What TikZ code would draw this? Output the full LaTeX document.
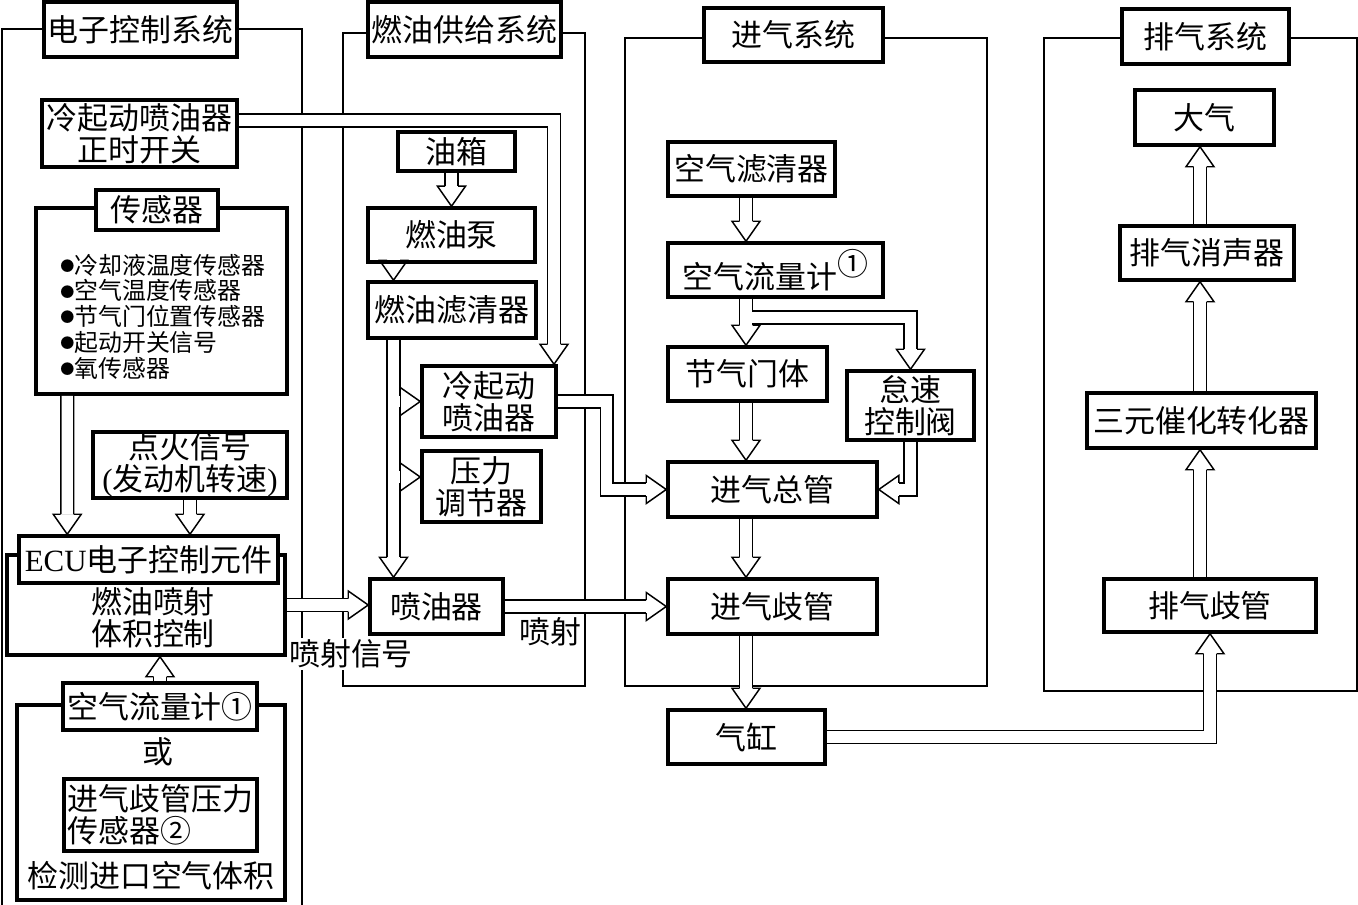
\documentclass[tikz,border=0pt]{standalone}
\usepackage{fontspec}
\setmainfont{Noto Sans CJK SC}
\newfontfamily\latinrm{Liberation Serif}
\usepackage{tikz}
\usetikzlibrary{calc}
\newcommand\boxfont{\fontsize{22}{23}\selectfont}
\newcommand\sensorfont{\fontsize{17}{18.3}\selectfont}
\newcommand\senbullet{\raisebox{0.12em}{\fontsize{10}{10}\selectfont ●}}
\tikzset{
  sysframe/.style={draw,line width=1pt},
  titlebox/.style={draw,line width=2.5pt,fill=white,inner sep=0pt,minimum height=13.75mm,font=\boxfont},
  unitbox/.style={draw,line width=2.5pt,fill=white,inner sep=0pt,align=center,minimum height=13.5mm,font=\boxfont},
  note/.style={inner sep=1pt,fill=white,align=center,font=\boxfont},
  pipe/.style={draw,line width=1.05pt,double=white,double distance=2.85mm,line join=miter},
  pipeline/.style={line width=1.05pt,line join=miter},
  hhead/.pic={
    \draw[pipeline] (-20,6.5) -- (-20,14) -- (0,0) -- (-20,-14) -- (-20,-6.5);
  }
}
\begin{document}
\begin{tikzpicture}[x=0.25mm,y=-0.25mm]
  \useasboundingbox (0,0) rectangle (1358,905);
  \draw[sysframe] (2,905) -- (2,29) -- (302,29) -- (302,905);
  \draw[sysframe] (343,33) rectangle (585,686);
  \draw[sysframe] (625,38) rectangle (987,686);
  \draw[sysframe] (1044,38) rectangle (1357,691);
  \node[titlebox,minimum width=48.25mm] (ecsTitle) at (140.5,29.5) {电子控制系统};
  \node[titlebox,minimum width=48.25mm] (fuelTitle) at (464.5,29.5) {燃油供给系统};
  \node[titlebox,minimum width=44.75mm,minimum height=13.5mm] (intakeTitle) at (793.5,35) {进气系统};
  \node[titlebox,minimum width=41.75mm] (exhaustTitle) at (1205.5,36.5) {排气系统};

  % electronic control
  \node[unitbox,minimum width=48.75mm,minimum height=16.75mm] (csSwitch) at (139.5,133.5) {冷起动喷油器\\正时开关};
  \node[unitbox,minimum width=62.75mm,minimum height=46.5mm] (sensors) at (161.5,301) {};
  \node[titlebox,minimum width=30.5mm,minimum height=10mm] (sensorTitle) at (157,210) {传感器};
  \node[align=left,anchor=west,inner sep=0pt,font=\sensorfont] (sensorList) at (60,316.5)
    {\senbullet 冷却液温度传感器\\\senbullet 空气温度传感器\\\senbullet 节气门位置传感器\\\senbullet 起动开关信号\\\senbullet 氧传感器};
  \node[unitbox,minimum width=48.5mm,minimum height=16.5mm] (ignition) at (190,465) {点火信号\\{\latinrm(}发动机转速{\latinrm)}};
  \node[unitbox,minimum width=69.5mm,minimum height=25mm] (ecu) at (146,605) {};
  \node[titlebox,minimum width=64.75mm,minimum height=11.75mm] (ecuTitle) at (148.5,559.5) {{\latinrm ECU}电子控制元件};
  \node[note] (ecuText) at (153,618) {燃油喷射\\体积控制};
  \node[unitbox,minimum width=67mm,minimum height=48.75mm] (detect) at (151,802.5) {};
  \node[titlebox,minimum width=48.5mm,minimum height=11.75mm] (afmTitle) at (160,706.5) {空气流量计①};
  \node[note] (orText) at (158,752) {或};
  \node[unitbox,align=left,minimum width=48.25mm,minimum height=18mm] (mapSensor) at (160.5,815) {进气歧管压力\\传感器②};
  \node[note] (detectText) at (151,876) {检测进口空气体积};

  % fuel supply
  \node[unitbox,minimum width=29.25mm,minimum height=9.75mm] (tank) at (456.5,151.5) {油箱};
  \node[unitbox,minimum width=41.75mm] (pump) at (451.5,235) {燃油泵};
  \node[unitbox,minimum width=42mm,minimum height=14mm] (filter) at (452,310) {燃油滤清器};
  \node[unitbox,minimum width=33.5mm,minimum height=17.75mm] (csInj) at (489,401.5) {冷起动\\喷油器};
  \node[unitbox,minimum width=29.75mm,minimum height=17.75mm] (regulator) at (481.5,486.5) {压力\\调节器};
  \node[unitbox,minimum width=33.25mm,minimum height=13.75mm] (injector) at (436.5,606.5) {喷油器};
  \node[note] (signalText) at (351,654) {喷射信号};
  \node[note] (sprayText) at (550,632) {喷射};

  % intake
  \node[unitbox,minimum width=41.75mm] (airFilter) at (751.5,169) {空气滤清器};
  \node[unitbox,minimum width=53.75mm] (airFlow) at (775.5,270) {空气流量计\raisebox{0.4em}{①}};
  \node[unitbox,minimum width=39.75mm] (throttle) at (747.5,374) {节气门体};
  \node[unitbox,minimum width=31.75mm,minimum height=17.25mm] (idleValve) at (910.5,405.5) {怠速\\控制阀};
  \node[unitbox,minimum width=52.25mm,minimum height=13.75mm] (plenum) at (772.5,489.5) {进气总管};
  \node[unitbox,minimum width=52.25mm,minimum height=13.75mm] (intakeManifold) at (772.5,606.5) {进气歧管};
  \node[unitbox,minimum width=39.25mm] (cylinder) at (746.5,737) {气缸};

  % exhaust
  \node[unitbox,minimum width=34.75mm,minimum height=13.75mm] (atmosphere) at (1204.5,117.5) {大气};
  \node[unitbox,minimum width=43.5mm] (muffler) at (1207,253) {排气消声器};
  \node[unitbox,minimum width=57.25mm,minimum height=13.75mm] (catalyst) at (1201.5,420.5) {三元催化转化器};
  \node[unitbox,minimum width=53mm,minimum height=13.25mm] (exManifold) at (1210,605.5) {排气歧管};

  \coordinate (fuelAxis) at (393.5,0);
  \coordinate (inAxis) at (746,0);
  \coordinate (exAxis) at (1200,0);
  \coordinate (idleTee) at (746,317.5);

  \draw[pipe,shorten >=5mm] ([xshift=8.25mm]sensors.south west) -- ([xshift=12.5mm]ecuTitle.north west);
  \pic[rotate=-90] at ([xshift=12.5mm]ecuTitle.north west) {hhead};
  \draw[pipe,shorten >=5mm] (ignition.south) -- (ignition.south |- ecuTitle.north);
  \pic[rotate=-90] at (ignition.south |- ecuTitle.north) {hhead};
  \draw[pipe,shorten >=5mm] (afmTitle.north) -- (afmTitle.north |- ecu.south);
  \pic[rotate=90] at (afmTitle.north |- ecu.south) {hhead};
  \draw[pipe,shorten >=5mm] (ecu.east) -- (ecu.east -| injector.west);
  \pic at (ecu.east -| injector.west) {hhead};
  \draw[pipe,shorten >=5mm] ([yshift=3.25mm]csSwitch.east) -| ([xshift=16.25mm]csInj.north);
  \pic[rotate=-90] at ([xshift=16.25mm]csInj.north) {hhead};

  \draw[pipe,shorten >=5mm] (pump.north |- tank.south) -- (pump.north);
  \pic[rotate=-90] at (pump.north) {hhead};
  \pic[rotate=-90] at (fuelAxis |- filter.north) {hhead};
  \draw[pipe] (fuelAxis |- filter.south) -- ($(fuelAxis |- injector.north)+(0,-20)$)
    (fuelAxis |- csInj.west) -- ($(csInj.west)+(-20,0)$)
    ($(fuelAxis |- regulator.west)+(0,-9.5)$) -- ($(regulator.west)+(-20,-9.5)$);
  \pic[rotate=-90] at (fuelAxis |- injector.north) {hhead};
  \pic at (csInj.west) {hhead};
  \pic at ($(regulator.west)+(0,-9.5)$) {hhead};
  \draw[pipe,shorten >=5mm] (csInj.east) -- ++(49,0) |- (plenum.west);
  \pic at (plenum.west) {hhead};
  \draw[pipe,shorten >=5mm] (injector.east) -- (injector.east -| intakeManifold.west);
  \pic at (injector.east -| intakeManifold.west) {hhead};

  \draw[pipe] (inAxis |- airFlow.south) -- ($(inAxis |- throttle.north)+(0,-20)$)
    (idleTee) -| ($(idleValve.north)+(0,-20)$);
  \pic[rotate=-90] at (inAxis |- throttle.north) {hhead};
  \pic[rotate=-90] at (idleValve.north) {hhead};
  \foreach \from/\to in {airFilter/airFlow,throttle/plenum,plenum/intakeManifold,intakeManifold/cylinder}{
    \draw[pipe,shorten >=5mm] (inAxis |- \from.south) -- (inAxis |- \to.north);
    \pic[rotate=-90] at (inAxis |- \to.north) {hhead};
  }
  \draw[pipe,shorten >=5mm] (idleValve.south) |- (plenum.east);
  \pic[rotate=180] at (plenum.east) {hhead};

  \draw[pipe,shorten >=5mm] (cylinder.east) -| (exManifold.south);
  \pic[rotate=90] at (exManifold.south) {hhead};
  \foreach \from/\to in {exManifold/catalyst,catalyst/muffler,muffler/atmosphere}{
    \draw[pipe,shorten >=5mm] (exAxis |- \from.north) -- (exAxis |- \to.south);
    \pic[rotate=90] at (exAxis |- \to.south) {hhead};
  }
\end{tikzpicture}
\end{document}
